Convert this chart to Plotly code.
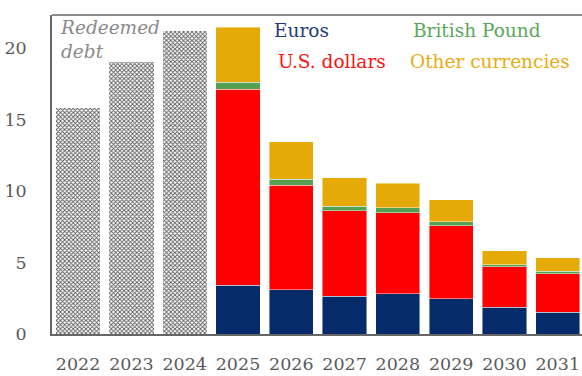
import plotly.graph_objects as go

# Annual debt service by year (billions)
years = ["2022", "2023", "2024", "2025", "2026", "2027", "2028", "2029", "2030", "2031"]
redeemed = [15.8, 19.0, 21.2, None, None, None, None, None, None, None]

euros = [None, None, None, 3.4, 3.1, 2.65, 2.8, 2.48, 1.88, 1.51]
us_dollars = [None, None, None, 13.7, 7.3, 5.96, 5.66, 5.09, 2.83, 2.71]
british_pound = [None, None, None, 0.5, 0.42, 0.33, 0.35, 0.28, 0.12, 0.17]
other_currencies = [None, None, None, 3.85, 2.63, 2.0, 1.72, 1.53, 1.0, 0.93]

y_ticks = [0, 5, 10, 15, 20]

SERIF = "DejaVu Serif"
edge = dict(color="rgba(255,255,255,0.55)", width=0.8)

fig = go.Figure()

fig.add_trace(go.Bar(
    x=years, y=redeemed, name="Redeemed debt",
    marker=dict(
        color="white",
        line=dict(width=0),
        pattern=dict(shape="x", fgcolor="#5e5e5e", bgcolor="white",
                     size=3, solidity=0.5, fillmode="replace"),
    ),
))

series = [
    ("Euros", euros, "#062b6a"),
    ("U.S. dollars", us_dollars, "#ff0000"),
    ("British Pound", british_pound, "#55a052"),
    ("Other currencies", other_currencies, "#e6aa08"),
]
for name, vals, col in series:
    fig.add_trace(go.Bar(x=years, y=vals, name=name,
                         marker=dict(color=col, line=edge)))

# Inline series labels
labels = [
    ("Redeemed<br>debt", 0.011, 0.999, "#8a8a8a", "top", "italic"),
    ("Euros", 0.415, 0.9515, "#1f3d7c", "middle", "normal"),
    ("U.S. dollars", 0.4226, 0.8546, "#ff1010", "middle", "normal"),
    ("British Pound", 0.677, 0.9515, "#5aa75a", "middle", "normal"),
    ("Other currencies", 0.6717, 0.8546, "#e8ac10", "middle", "normal"),
]
for text, x, y, col, yanc, style in labels:
    fig.add_annotation(
        text=text, x=x, y=y, xref="paper", yref="paper",
        xanchor="left", yanchor=yanc, showarrow=False, align="left",
        font=dict(family=SERIF, size=18.5, color=col, style=style),
    )

fig.update_layout(
    barmode="stack",
    bargap=0.17,
    width=582, height=376,
    margin=dict(l=52, r=0, t=14.5, b=41.7, pad=0),
    paper_bgcolor="white", plot_bgcolor="white",
    showlegend=False,
    font=dict(family=SERIF, size=17.5, color="#5a5a5a"),
    xaxis=dict(
        type="category", range=[-0.49, 9.455],
        showgrid=False, zeroline=False,
        showline=True, linecolor="#666666", linewidth=1.5,
        ticks="", ticklabelstandoff=13,
        tickfont=dict(family=SERIF, size=17.5, color="#5a5a5a"),
        mirror=False,
    ),
    yaxis=dict(
        range=[0, 22.3], tickvals=y_ticks,
        showgrid=False, zeroline=False,
        showline=True, linecolor="#666666", linewidth=1.5,
        ticks="", ticklabelstandoff=20,
        tickfont=dict(family=SERIF, size=17.5, color="#5a5a5a"),
    ),
    shapes=[dict(type="line", xref="paper", yref="paper",
                 x0=0, x1=1, y0=1, y1=1,
                 line=dict(color="#666666", width=1.5))],
)

fig.write_html("out.html")
